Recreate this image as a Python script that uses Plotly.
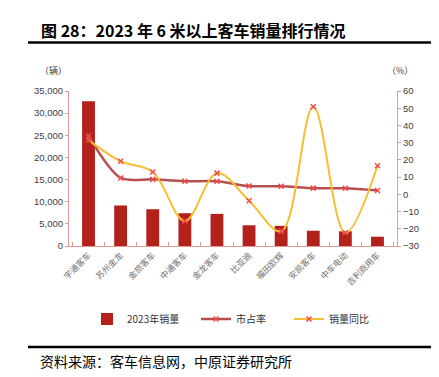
import plotly.graph_objects as go

categories = ["宇通客车", "苏州金龙", "金旅客车", "中通客车", "金龙客车",
              "比亚迪", "福田欧辉", "安凯客车", "中车电动", "吉利商用车"]
sales_2023 = [32700, 9150, 8300, 7400, 7250, 4680, 4550, 3450, 3320, 2100]
market_share = [33.8, 9.5, 8.7, 7.6, 7.6, 4.8, 4.7, 3.6, 3.5, 2.2]
yoy_growth = [31.5, 19.2, 13.0, -15.5, 12.3, -3.7, -21.5, 50.8, -22.3, 16.6]

left_ticks = [0, 5000, 10000, 15000, 20000, 25000, 30000, 35000]
left_tick_text = ["0", "5,000", "10,000", "15,000", "20,000", "25,000", "30,000", "35,000"]
right_ticks = [-30, -20, -10, 0, 10, 20, 30, 40, 50, 60]

W, H = 439, 377
L, R, T, B = 61, 50, 83, 139
pw, ph = W - L - R, H - T - B

def px_x(x):
    return (x - L) / pw

def px_y(y):
    return (H - B - y) / ph

def cx(x):
    return x / W

def cy(y):
    return 1 - y / H

BAR = "#B2221B"
SHARE = "#B5504F"
YOY = "#F6BE32"
MK = "#F24A4A"
AXIS = "#E59A9A"
TICKFONT = dict(family="Liberation Sans Narrow, Liberation Sans, sans-serif", size=9.5, color="#404040")
CJK = "Noto Sans CJK SC"

fig = go.Figure()
fig.add_trace(go.Bar(
    x=categories, y=sales_2023, name="2023年销量",
    marker=dict(color=BAR, line=dict(width=0)),
    legend="legend",
))
fig.add_trace(go.Scatter(
    x=categories, y=market_share, name="市占率", yaxis="y2",
    mode="lines+markers", line=dict(color=SHARE, width=2.5, shape="spline", smoothing=0.8),
    marker=dict(symbol="x-thin-open", size=5, color=MK, line=dict(width=1.5, color=MK)),
    legend="legend2",
))
fig.add_trace(go.Scatter(
    x=categories, y=yoy_growth, name="销量同比", yaxis="y2",
    mode="lines+markers", line=dict(color=YOY, width=2, shape="spline", smoothing=1.0),
    marker=dict(symbol="x-thin-open", size=5, color=MK, line=dict(width=1.5, color=MK)),
    legend="legend3",
))

legend_common = dict(orientation="h", yanchor="middle", xanchor="left",
                     xref="container", yref="container",
                     font=dict(family=CJK, size=10, color="#333333"),
                     bgcolor="rgba(0,0,0,0)", borderwidth=0)

fig.update_layout(
    width=W, height=H,
    margin=dict(l=L, r=R, t=T, b=B, pad=0, autoexpand=False),
    paper_bgcolor="white", plot_bgcolor="white",
    bargap=0.6,
    showlegend=True,
    legend=dict(x=cx(79), y=cy(311), **legend_common),
    legend2=dict(x=cx(188), y=cy(311), **legend_common),
    legend3=dict(x=cx(281), y=cy(311), **legend_common),
    xaxis=dict(
        type="category", tickangle=-45, tickson="boundaries", automargin=False,
        ticks="inside", ticklen=4, tickcolor=AXIS,
        showline=True, linecolor=AXIS, linewidth=1, mirror=False,
        showgrid=False, tickfont=dict(family=CJK, size=8.5, color="#707070"),
    ),
    yaxis=dict(
        range=[0, 35000], tickvals=left_ticks, ticktext=left_tick_text, automargin=False,
        showline=True, linecolor=AXIS, linewidth=1,
        ticks="outside", ticklen=3, tickcolor=AXIS,
        showgrid=False, zeroline=False, tickfont=TICKFONT,
    ),
    yaxis2=dict(
        range=[-30, 60], tickvals=right_ticks, overlaying="y", side="right", automargin=False,
        showline=True, linecolor=AXIS, linewidth=1,
        ticks="outside", ticklen=3, tickcolor=AXIS,
        showgrid=False, zeroline=False, tickfont=TICKFONT,
    ),
    shapes=[
        dict(type="line", xref="paper", yref="paper", x0=px_x(20), x1=px_x(423),
             y0=px_y(34.5), y1=px_y(34.5), line=dict(color="#000000", width=2.5)),
        dict(type="line", xref="paper", yref="paper", x0=px_x(20), x1=px_x(423),
             y0=px_y(339), y1=px_y(339), line=dict(color="#000000", width=2.5)),
    ],
    annotations=[
        dict(text="<b>图 28：2023 年 6 米以上客车销量排行情况</b>", xref="paper", yref="paper",
             x=px_x(31), y=px_y(22), xanchor="left", yanchor="middle", showarrow=False,
             font=dict(family=CJK, size=16, color="#000000")),
        dict(text="资料来源：客车信息网，中原证券研究所", xref="paper", yref="paper",
             x=px_x(30), y=px_y(353), xanchor="left", yanchor="middle", showarrow=False,
             font=dict(family=CJK, size=14, color="#000000")),
        dict(text="（辆）", xref="paper", yref="paper",
             x=px_x(45), y=px_y(63), xanchor="center", yanchor="middle", showarrow=False,
             font=dict(family=CJK, size=9, color="#404040")),
        dict(text="（%）", xref="paper", yref="paper",
             x=px_x(392), y=px_y(62), xanchor="center", yanchor="middle", showarrow=False,
             font=dict(family=CJK, size=9, color="#404040")),
    ],
)

fig.write_html("out.html")
